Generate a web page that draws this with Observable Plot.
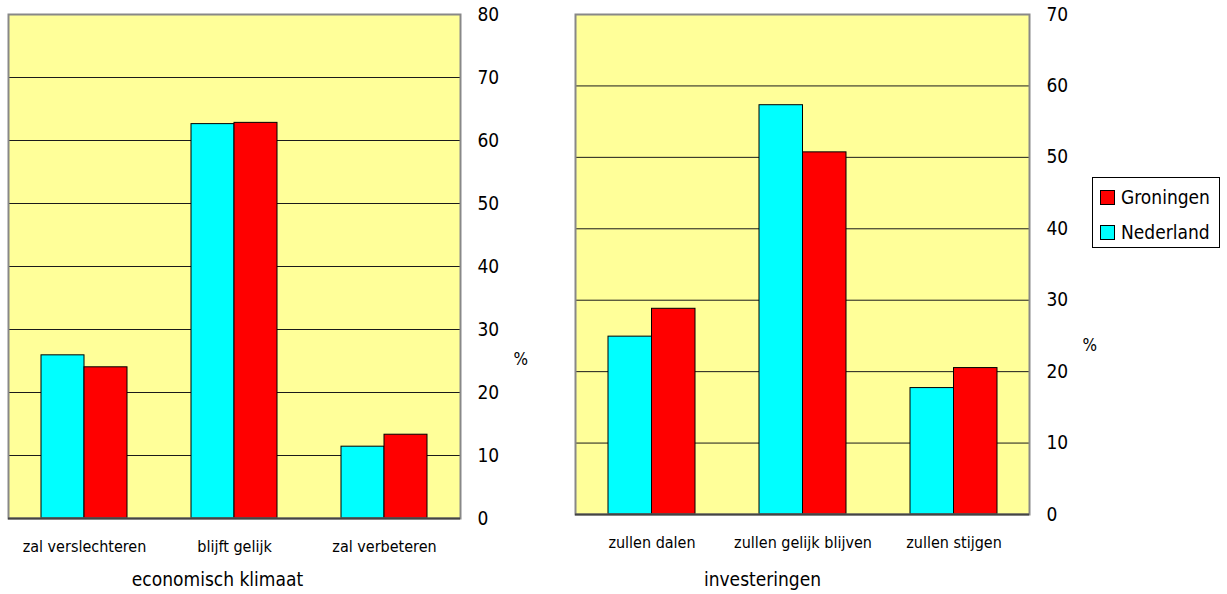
<!DOCTYPE html>
<html>
<head>
<meta charset="utf-8">
<script src="https://cdn.jsdelivr.net/npm/d3@7"></script>
<script src="https://cdn.jsdelivr.net/npm/@observablehq/plot@0.6"></script>
<style>
  body { margin: 0; background: #fff; }
  #wrap { position: relative; width: 1227px; height: 594px; overflow: hidden;
          font-family: "Liberation Sans Narrow", "DejaVu Sans Condensed", "Roboto Condensed", "Liberation Sans", sans-serif; }
  .chart { position: absolute; top: 0; }
  .chart g[aria-label^="x-axis"] { font-size: 16px; }
  .chart g[aria-label^="y-axis"] { font-size: 19px; }
  #legend { position: absolute; left: 1092px; top: 177px; width: 126px; height: 69px;
            border: 1px solid #000; background: #fff; }
  .item { position: absolute; left: 7px; display: flex; align-items: center; font-size: 19px; line-height: 19px; }
  .sw { width: 13px; height: 13px; border: 1px solid #000; margin-right: 6px; }
</style>
</head>
<body>
<div id="wrap">
  <div id="left" class="chart" style="left:0px"></div>
  <div id="right" class="chart" style="left:560px"></div>
  <div id="legend"></div>
</div>
<script>
// ---- data ----
const seriesNames = ["Groningen", "Nederland"];
const seriesColors = ["#ff0000", "#00ffff"];

const econCategories = ["zal verslechteren", "blijft gelijk", "zal verbeteren"];
const econNederland = [25.9, 62.6, 11.4];
const econGroningen = [24.0, 62.8, 13.3];
const econTicks = [0, 10, 20, 30, 40, 50, 60, 70, 80];
const econTitle = "economisch klimaat";

const invCategories = ["zullen dalen", "zullen gelijk blijven", "zullen stijgen"];
const invNederland = [24.9, 57.3, 17.7];
const invGroningen = [28.8, 50.7, 20.5];
const invTicks = [0, 10, 20, 30, 40, 50, 60, 70];
const invTitle = "investeringen";

const unitLabel = "%";

// ---- drawing ----
const FONT = '"Liberation Sans Narrow", "DejaVu Sans Condensed", "Roboto Condensed", "Liberation Sans", sans-serif';
const YELLOW = "#ffff99";
const GRID = "#1a1a1a";
const colorOf = Object.fromEntries(seriesNames.map((s, i) => [s, seriesColors[i]]));

function groupedChart(cfg) {
  const rows = cfg.categories.map((c, i) => ({cat: c, Nederland: cfg.nederland[i], Groningen: cfg.groningen[i]}));
  const yMax = cfg.ticks[cfg.ticks.length - 1];
  const make = (inset) => Plot.plot({
    width: cfg.width,
    height: 594,
    marginTop: 14,
    marginBottom: cfg.marginBottom,
    marginLeft: cfg.marginLeft,
    marginRight: cfg.marginRight,
    style: {fontFamily: FONT, fontSize: "18px", background: "transparent", overflow: "visible", color: "#000"},
    x: {domain: cfg.categories, paddingInner: 0.427, paddingOuter: 0.2135, tickSize: 0, tickPadding: 22, label: null},
    y: {domain: [0, yMax], ticks: cfg.ticks, axis: "right", tickSize: 0, tickPadding: 17, label: null},
    marks: [
      Plot.frame({fill: YELLOW}),
      Plot.ruleY(cfg.ticks.filter(t => t > 0 && t < yMax), {stroke: GRID, strokeWidth: 1}),
      Plot.barY(rows, {x: "cat", y: "Nederland", fill: colorOf.Nederland, stroke: "#000", strokeWidth: 1, insetRight: inset}),
      Plot.barY(rows, {x: "cat", y: "Groningen", fill: colorOf.Groningen, stroke: "#000", strokeWidth: 1, insetLeft: inset}),
      Plot.frame({stroke: "#888", strokeWidth: 2}),
      Plot.ruleY([0], {stroke: "#444", strokeWidth: 2}),
      Plot.text([cfg.title], {text: d => d, frameAnchor: "bottom", dy: cfg.titleDy, dx: cfg.titleDx, fontSize: 19}),
      Plot.text([unitLabel], {text: d => d, frameAnchor: "right", textAnchor: "start", dx: 53, dy: cfg.pctDy, fontSize: 17})
    ]
  });
  const probe = make(0);
  const bw = probe.scale("x").bandwidth;
  return make(bw / 2);
}

document.getElementById("left").appendChild(groupedChart({
  categories: econCategories, nederland: econNederland, groningen: econGroningen, ticks: econTicks,
  title: econTitle, width: 560, marginLeft: 8, marginRight: 100, marginBottom: 76,
  titleDx: -17, titleDy: 67, pctDy: 93
}));

document.getElementById("right").appendChild(groupedChart({
  categories: invCategories, nederland: invNederland, groningen: invGroningen, ticks: invTicks,
  title: invTitle, width: 540, marginLeft: 15, marginRight: 71, marginBottom: 80,
  titleDx: -40, titleDy: 71, pctDy: 81
}));

// legend
const legend = document.getElementById("legend");
seriesNames.forEach((s, i) => {
  const item = document.createElement("div");
  item.className = "item";
  item.style.top = (10 + i * 35) + "px";
  const sw = document.createElement("div");
  sw.className = "sw";
  sw.style.background = seriesColors[i];
  const label = document.createElement("span");
  label.textContent = s;
  item.appendChild(sw);
  item.appendChild(label);
  legend.appendChild(item);
});
</script>
</body>
</html>
